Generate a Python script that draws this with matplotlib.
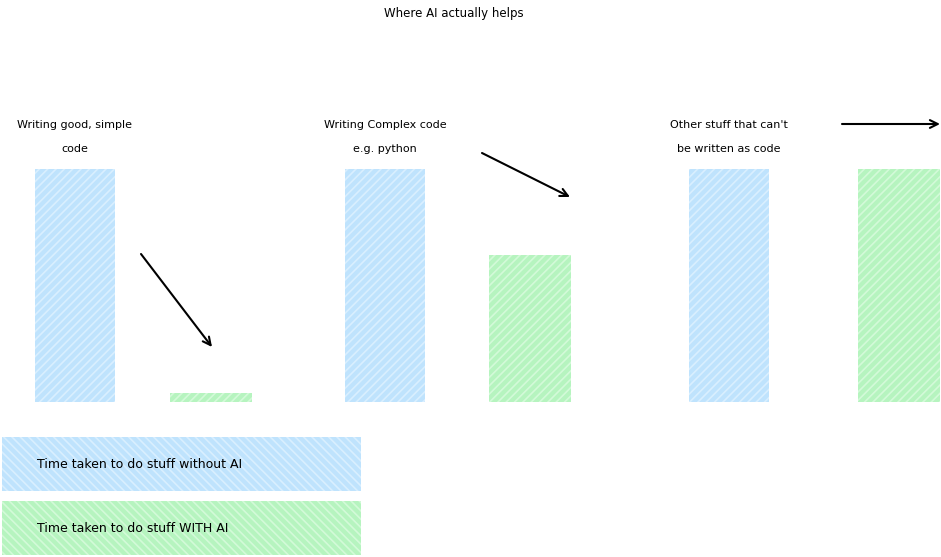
import numpy as np
import matplotlib
matplotlib.use('Agg')
import matplotlib.pyplot as plt
from matplotlib.patches import Rectangle

# data
categories = ['Writing good, simple\ncode', 'Writing Complex code\ne.g. python',
              "Other stuff that can't\nbe written as code"]
without_ai = [100, 100, 100]
with_ai = [4, 63, 100]
legend_labels = ['Time taken to do stuff without AI', 'Time taken to do stuff WITH AI']
title = 'Where AI actually helps'

# layout (pixels)
W, H = 941, 557
blue_x = [35, 345, 689]
green_x = [170, 489, 858]
bar_w = 80
blue = '#bfe3fd'
green = '#b6f4bf'
plt.rcParams['hatch.linewidth'] = 1.2

fig = plt.figure(figsize=(W / 100, H / 100), dpi=100)

# bars
ax = fig.add_axes([0, (H - 402) / H, 1, 233 / H])
ax.set_xlim(0, W)
ax.set_ylim(0, 100)
ax.axis('off')
ax.bar(blue_x, without_ai, width=bar_w, align='edge', color=blue,
       hatch='////', edgecolor='#d9efff', linewidth=0)
ax.bar(green_x, with_ai, width=bar_w + 2, align='edge', color=green,
       hatch='////', edgecolor='#d3fad8', linewidth=0)

# overlay in pixel coords
ov = fig.add_axes([0, 0, 1, 1])
ov.set_xlim(0, W)
ov.set_ylim(H, 0)
ov.axis('off')
ov.patch.set_alpha(0)

ov.text(454, 13, title, ha='center', va='center', fontsize=8.5)
for cx, lab in zip([75, 385, 729], categories):
    l1, l2 = lab.split('\n')
    ov.text(cx, 125, l1, ha='center', va='center', fontsize=8)
    ov.text(cx, 149, l2, ha='center', va='center', fontsize=8)

arrows = [((141, 254), (212, 347)), ((482, 153), (570, 197)), ((842, 124), (940, 124))]
for (x0, y0), (x1, y1) in arrows:
    ov.annotate('', xy=(x1, y1), xytext=(x0, y0),
                arrowprops=dict(arrowstyle='->', lw=1.5, color='black',
                                mutation_scale=14, shrinkA=0, shrinkB=0))

# legend boxes
for y0, col, ec, lab in [(437, blue, '#d9efff', legend_labels[0]),
                         (501, green, '#d3fad8', legend_labels[1])]:
    ov.add_patch(Rectangle((2, y0), 359, 54, facecolor=col, edgecolor=ec,
                           hatch='\\\\\\\\', linewidth=0))
    ov.text(37, y0 + 27, lab, ha='left', va='center', fontsize=9)

fig.savefig('out.png', dpi=100)
